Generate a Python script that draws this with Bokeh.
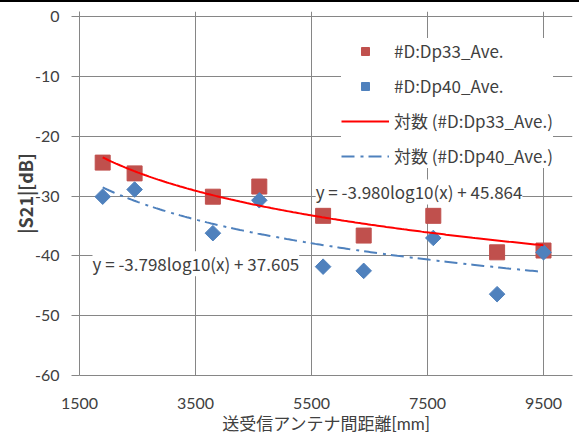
import numpy as np
from bokeh.plotting import figure
from bokeh.models import Legend, LegendItem, Label, FixedTicker, Range1d, Div
from bokeh.layouts import column
from bokeh.embed import file_html
from bokeh.resources import INLINE

# ---- data ----
distance_mm = [1900, 2450, 3800, 4600, 5700, 6400, 7600, 8700, 9500]
dp33_ave = [-24.4, -26.2, -30.1, -28.4, -33.3, -36.6, -33.3, -39.4, -39.1]
dp40_ave = [-30.1, -28.9, -36.2, -30.7, -41.8, -42.5, -37.0, -46.4, -39.4]
x_ticks = [1500, 3500, 5500, 7500, 9500]
y_ticks = [-60, -50, -40, -30, -20, -10, 0]
series_names = ["#D:Dp33_Ave.", "#D:Dp40_Ave.", "対数 (#D:Dp33_Ave.)", "対数 (#D:Dp40_Ave.)"]
eq_texts = ["y = -3.980log10(x) + 45.864", "y = -3.798log10(x) + 37.605"]
x_title = "送受信アンテナ間距離[mm]"
y_title = "|S21|[dB]"

FONT = "Noto Sans CJK JP"
TICK_FONT = "Lato"
TXT = "#404040"
GRID = "#868686"
RED_M = "#C0504D"
BLUE_M = "#4F81BD"
RED_L = "#FF0000"

p = figure(width=579, height=434, output_backend="svg", toolbar_location=None,
           x_range=Range1d(1500, 10000), y_range=Range1d(-60, 0.87),
           min_border_left=79, min_border_right=7, min_border_top=9, min_border_bottom=61)
p.margin = (0, 0, 0, 0)
p.outline_line_color = None
p.background_fill_color = "white"
p.border_fill_color = "white"

for ax in (p.xaxis[0], p.yaxis[0]):
    ax.axis_line_color = GRID
    ax.major_tick_line_color = GRID
    ax.minor_tick_line_color = None
    ax.major_tick_in = 0
    ax.major_label_text_font = TICK_FONT
    ax.major_label_text_font_size = "16px"
    ax.major_label_text_color = TXT
    ax.axis_label_text_color = TXT

p.xaxis.ticker = FixedTicker(ticks=x_ticks)
p.yaxis.ticker = FixedTicker(ticks=y_ticks)
p.yaxis.major_label_overrides = {v: str(v) for v in y_ticks}
p.xaxis.major_tick_out = 0
p.yaxis.major_tick_out = 8
p.xaxis.major_label_standoff = 22
p.yaxis.major_label_standoff = 12
p.xaxis.axis_label = x_title
p.xaxis.axis_label_text_font = "Lato, 'Noto Sans CJK JP'"
p.xaxis.axis_label_text_font_size = "17px"
p.xaxis.axis_label_text_font_style = "normal"
p.xaxis.axis_label_standoff = 1
p.yaxis.axis_label = y_title
p.yaxis.axis_label_text_font = FONT
p.yaxis.axis_label_text_font_size = "18px"
p.yaxis.axis_label_text_font_style = "bold"
p.yaxis.axis_label_standoff = -6

p.xgrid.ticker = FixedTicker(ticks=x_ticks)
p.ygrid.ticker = FixedTicker(ticks=y_ticks)
p.grid.grid_line_color = GRID
p.grid.grid_line_width = 1

r33 = p.scatter(distance_mm, dp33_ave, marker="square", size=15,
                fill_color=RED_M, line_color=RED_M)
r40 = p.scatter(distance_mm, dp40_ave, marker="square", angle=np.pi / 4, size=11,
                fill_color=BLUE_M, line_color=BLUE_M)

# logarithmic trend lines (least-squares fit of y = a*ln(x) + b)
xs = np.linspace(min(distance_mm), max(distance_mm), 200)
a33, b33 = np.polyfit(np.log(distance_mm), dp33_ave, 1)
a40, b40 = np.polyfit(np.log(distance_mm), dp40_ave, 1)
t33 = p.line(xs, a33 * np.log(xs) + b33, line_color=RED_L, line_width=2)
t40 = p.line(xs, a40 * np.log(xs) + b40, line_color=BLUE_M, line_width=2,
             line_dash="13 6 3 5")

legend = Legend(items=[LegendItem(label=series_names[0], renderers=[r33]),
                       LegendItem(label=series_names[1], renderers=[r40]),
                       LegendItem(label=series_names[2], renderers=[t33]),
                       LegendItem(label=series_names[3], renderers=[t40])],
                location=(262, 207))
legend.background_fill_color = "white"
legend.background_fill_alpha = 1
legend.border_line_color = None
legend.label_text_font = FONT
legend.label_text_font_size = "17px"
legend.label_text_color = TXT
legend.glyph_width = 48
legend.glyph_height = 20
legend.label_height = 20
legend.label_standoff = 5
legend.spacing = 10
legend.padding = 8
legend.margin = 0
p.add_layout(legend)

lab1 = Label(x=5572, y=-29.3, text=eq_texts[0], text_baseline="middle", text_align="left",
             text_font=FONT, text_font_size="17px", text_color=TXT,
             background_fill_color="white", background_fill_alpha=1)
lab2 = Label(x=1724, y=-41.3, text=eq_texts[1], text_baseline="middle", text_align="left",
             text_font=FONT, text_font_size="17px", text_color=TXT,
             background_fill_color="white", background_fill_alpha=1)
p.add_layout(lab1)
p.add_layout(lab2)

# thin black rule along the top edge of the picture
bar = Div(text="", width=579, height=2, margin=(0, 0, 0, 0),
          styles={"background-color": "black"})

layout = column(bar, p, spacing=0)

open("out.html", "w").write(file_html(layout, INLINE))
